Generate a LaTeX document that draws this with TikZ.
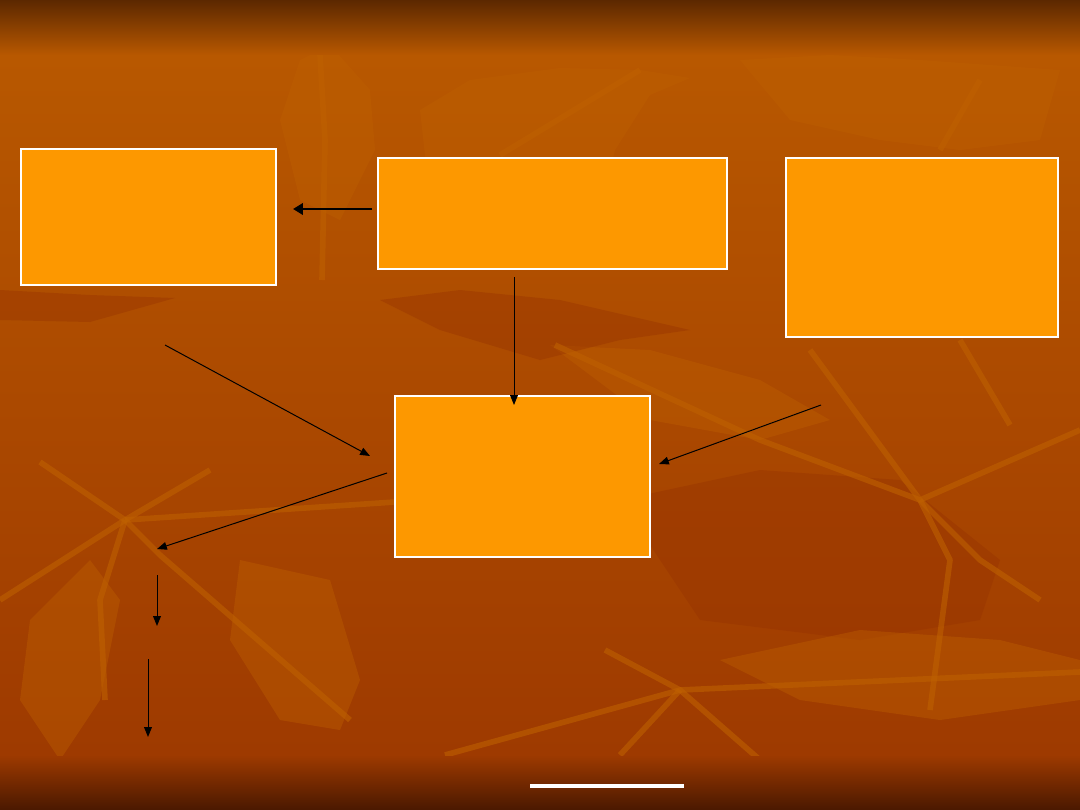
\documentclass[tikz,border=0pt]{standalone}
\usepackage{tikz}
\usetikzlibrary{arrows,arrows.meta,shapes,positioning}
\usepackage{xcolor}
\definecolor{bgtop}{RGB}{92,40,0}
\definecolor{bgmid}{RGB}{184,88,0}
\definecolor{bglow}{RGB}{158,58,0}
\definecolor{bgend}{RGB}{74,24,0}
\definecolor{leaflight}{RGB}{190,96,0}
\definecolor{leafdark}{RGB}{150,50,0}
\definecolor{boxorange}{RGB}{253,152,0}
\tikzstyle{arrow} = [-{Triangle[length=7pt,width=5.5pt]},color=black,line width=0.7pt]
\tikzstyle{thickarrow} = [-{Triangle[length=7pt,width=8pt]},color=black,line width=2pt]
\tikzstyle{orangebox} = [rectangle, draw=white, fill=boxorange, line width=0.8pt, inner sep=0pt, outer sep=0pt]
\tikzstyle{leaf} = [fill=leaflight, opacity=0.4]
\tikzstyle{leafshade} = [fill=leafdark, opacity=0.4]
\tikzstyle{vein} = [draw=leaflight, line width=4pt, opacity=0.6, line join=round]

\begin{document}
\begin{tikzpicture}[x=0.025cm, y=-0.025cm]
    % Background
    \shade[top color=bgmid, bottom color=bglow] (0,55) rectangle (1080,755);
    \shade[top color=bgtop, bottom color=bgmid] (0,0) rectangle (1080,55);
    \shade[top color=bglow, bottom color=bgend] (0,755) rectangle (1080,810);
    \useasboundingbox (0,0) rectangle (1080,810);

    % Leaves
    \begin{scope}
        \clip (0,55) rectangle (1080,755);
        \fill[leaf] (420,110) -- (470,80) -- (560,68) -- (640,70) -- (690,78) -- (650,95) -- (615,150) -- (600,210) -- (560,260) -- (480,250) -- (430,200) -- cycle;
        \fill[leaf] (300,60) -- (330,45) -- (370,90) -- (375,150) -- (340,220) -- (300,200) -- (280,120) -- cycle;
        \fill[leafshade] (0,290) -- (90,295) -- (175,298) -- (90,322) -- (0,320) -- cycle;
        \fill[leaf] (740,60) -- (830,55) -- (920,60) -- (1060,70) -- (1040,140) -- (960,150) -- (880,140) -- (790,120) -- cycle;
        \fill[leaf] (550,345) -- (650,350) -- (760,380) -- (830,420) -- (760,440) -- (650,420) -- cycle;
        \fill[leafshade] (620,500) -- (760,470) -- (900,480) -- (1000,560) -- (980,620) -- (860,640) -- (700,620) -- cycle;
        \fill[leaf] (240,560) -- (330,580) -- (360,680) -- (340,730) -- (280,720) -- (230,640) -- cycle;
        \fill[leaf] (30,620) -- (90,560) -- (120,600) -- (100,700) -- (60,760) -- (20,700) -- cycle;
        \fill[leaf] (720,660) -- (860,630) -- (1000,640) -- (1080,660) -- (1080,700) -- (940,720) -- (800,700) -- cycle;
        \fill[leafshade] (380,300) -- (440,330) -- (540,360) -- (620,340) -- (690,330) -- (560,300) -- (460,290) -- cycle;
        % Veins
        \draw[vein] (40,462) -- (125,520) -- (160,555) -- (350,720);
        \draw[vein] (125,520) -- (395,502);
        \draw[vein] (125,520) -- (0,600);
        \draw[vein] (125,520) -- (100,600) -- (105,700);
        \draw[vein] (125,520) -- (210,470);
        \draw[vein] (555,345) -- (760,440) -- (920,500) -- (1080,430);
        \draw[vein] (810,350) -- (920,500) -- (950,560) -- (930,710);
        \draw[vein] (920,500) -- (980,560) -- (1040,600);
        \draw[vein] (445,755) -- (680,690) -- (1080,672);
        \draw[vein] (605,650) -- (680,690) -- (760,760);
        \draw[vein] (680,690) -- (620,755);
        \draw[vein] (500,155) -- (640,70);
        \draw[vein] (320,55) -- (325,140) -- (322,280);
        \draw[vein] (940,150) -- (980,80);
        \draw[vein] (960,340) -- (1010,425);
    \end{scope}

    % Boxes
    \node[orangebox, minimum width=6.375cm, minimum height=3.4cm] (causes) at (148.5,217) {};
    \node[orangebox, minimum width=8.725cm, minimum height=2.775cm] (event) at (552.5,213.5) {};
    \node[orangebox, minimum width=6.8cm, minimum height=4.475cm] (factors) at (922,247.5) {};
    \node[orangebox, minimum width=6.375cm, minimum height=4.025cm] (result) at (522.5,476.5) {};

    % Arrow ends
    \coordinate (evL) at (372,209);
    \coordinate (caR) at (293,209);
    \coordinate (evB) at (514,277);
    \coordinate (reT) at (514,405);
    \coordinate (caB) at (165,345);
    \coordinate (reTL) at (370,456);
    \coordinate (faB) at (821,405);
    \coordinate (reR) at (659,464);
    \coordinate (reL) at (387,473);
    \coordinate (out1) at (157,549);
    \coordinate (out1b) at (157,575);
    \coordinate (out2) at (157,626);
    \coordinate (out2b) at (148,659);
    \coordinate (out3) at (148,737);

    % Arrows
    \draw[thickarrow] (evL) -- (caR);
    \draw[arrow] (evB) -- (reT);
    \draw[arrow] (caB) -- (reTL);
    \draw[arrow] (faB) -- (reR);
    \draw[arrow] (reL) -- (out1);
    \draw[arrow] (out1b) -- (out2);
    \draw[arrow] (out2b) -- (out3);

    % Bottom rule
    \coordinate (ruleL) at (530,786);
    \coordinate (ruleR) at (684,786);
    \draw[white, line width=2.2pt] (ruleL) -- (ruleR);
\end{tikzpicture}
\end{document}
